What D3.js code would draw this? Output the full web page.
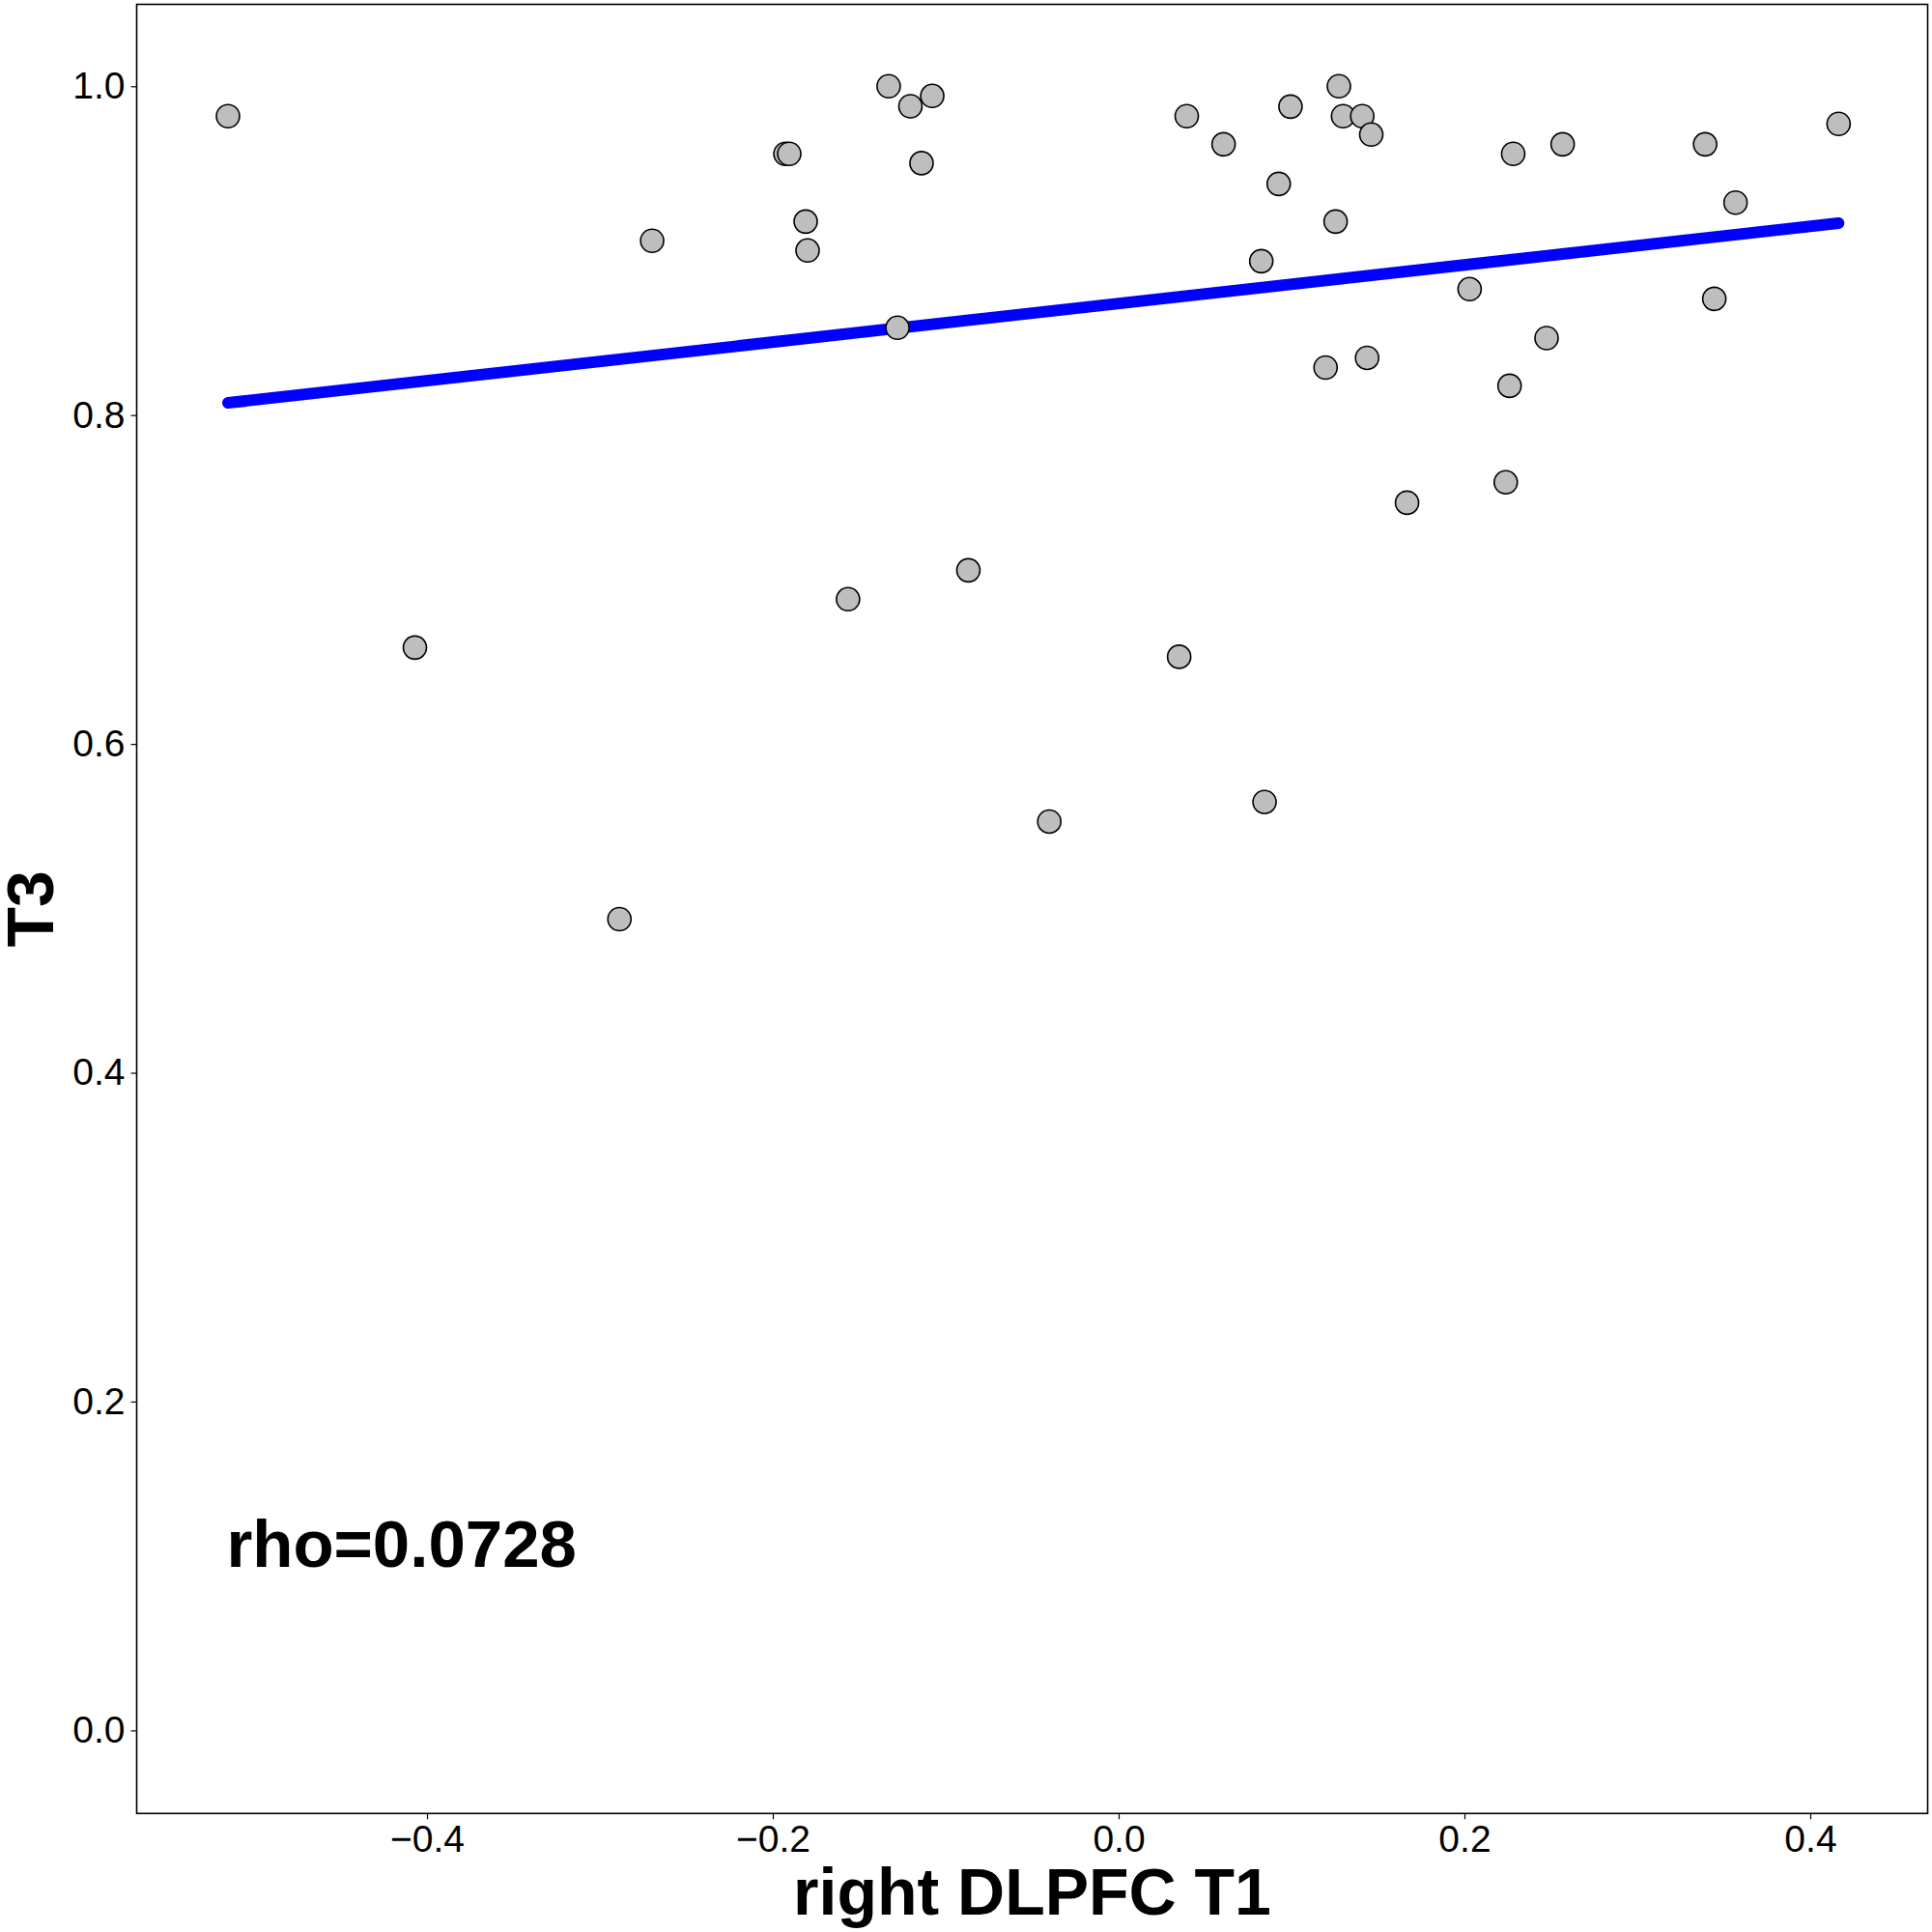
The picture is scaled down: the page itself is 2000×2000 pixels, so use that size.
<!DOCTYPE html>
<html>
<head>
<meta charset="utf-8">
<script src="https://cdn.jsdelivr.net/npm/d3@7"></script>
<style>
  body { margin: 0; background: #fff; }
  text { font-family: "Liberation Sans", Helvetica, Arial, sans-serif; }
</style>
</head>
<body>
<div id="chart"></div>
<script>
// right DLPFC T1 against T3, one dot per subject.
var dlpfcT1 = [-0.5151, -0.4070, -0.2698, -0.2887, -0.1927, -0.1905, -0.1810, -0.1799,
  -0.1565, -0.1330, -0.1204, -0.1078, -0.1140, -0.1279, -0.0869, -0.0401, 0.0350,
  0.0394, 0.0607, 0.0825, 0.0844, 0.0926, 0.0994, 0.1197, 0.1255, 0.1274, 0.1298,
  0.1409, 0.1461, 0.1437, 0.1668, 0.2030, 0.2239, 0.2261, 0.2282, 0.2475, 0.2568,
  0.3392, 0.3445, 0.3568, 0.4164];

var t3 = [0.9818, 0.6586, 0.9060, 0.4934, 0.9589, 0.9589, 0.9177, 0.9001,
  0.6880, 1.0000, 0.9878, 0.9941, 0.9532, 0.8531, 0.7056, 0.5528, 0.6530,
  0.9818, 0.9647, 0.8936, 0.5647, 0.9406, 0.9876, 0.8289, 0.9177, 1.0000, 0.9818,
  0.9818, 0.9706, 0.8348, 0.7467, 0.8766, 0.7591, 0.8178, 0.9589, 0.8468, 0.9647,
  0.9647, 0.8707, 0.9292, 0.9771];

// Fitted line, read at both ends of the data range.
var fitX = [-0.5151, 0.4164];
var fitY = [0.8074, 0.9167];

var xTicks = [-0.4, -0.2, 0.0, 0.2, 0.4];
var yTicks = [0.0, 0.2, 0.4, 0.6, 0.8, 1.0];

var rhoLabel = 'rho=0.0728';

var width = 2000, height = 2000,
    margin = { top: 4.5, right: 4.5, bottom: 122.7, left: 141.5 };

var svg = d3.select('#chart').append('svg')
    .attr('width', width)
    .attr('height', height);

var x = d3.scaleLinear()
    .domain([-0.5679, 0.4679])
    .range([margin.left, width - margin.right]);

var y = d3.scaleLinear()
    .domain([-0.0505, 1.0498])
    .range([height - margin.bottom, margin.top]);

var fmt = d3.format('.1f');

// Fit line goes under the dots.
var line = d3.line()
    .x(function (d) { return x(d[0]); })
    .y(function (d) { return y(d[1]); });

svg.append('path')
    .datum(d3.zip(fitX, fitY))
    .attr('d', line)
    .attr('fill', 'none')
    .attr('stroke', '#0000ff')
    .attr('stroke-width', 12)
    .attr('stroke-linecap', 'round');

svg.append('g')
  .selectAll('circle')
  .data(d3.zip(dlpfcT1, t3))
  .enter().append('circle')
    .attr('cx', function (d) { return x(d[0]); })
    .attr('cy', function (d) { return y(d[1]); })
    .attr('r', 12)
    .attr('fill', '#bebebe')
    .attr('stroke', '#000')
    .attr('stroke-width', 1.6);

// Axes
var xAxis = svg.append('g')
    .attr('transform', 'translate(0,' + (height - margin.bottom) + ')')
    .call(d3.axisBottom(x).tickValues(xTicks).tickFormat(fmt)
      .tickSize(6).tickPadding(6));

var yAxis = svg.append('g')
    .attr('transform', 'translate(' + margin.left + ',0)')
    .call(d3.axisLeft(y).tickValues(yTicks).tickFormat(fmt)
      .tickSize(6).tickPadding(6));

[xAxis, yAxis].forEach(function (g) {
  g.select('.domain').remove();
  g.selectAll('.tick line').attr('stroke', '#000').attr('stroke-width', 1.2);
  g.selectAll('.tick text')
    .attr('fill', '#000')
    .style('font-size', '39px');
});

// Panel border
svg.append('rect')
    .attr('x', x.range()[0])
    .attr('y', y.range()[1])
    .attr('width', x.range()[1] - x.range()[0])
    .attr('height', y.range()[0] - y.range()[1])
    .attr('fill', 'none')
    .attr('stroke', '#000')
    .attr('stroke-width', 1.6);

// Titles
svg.append('text')
    .attr('x', (x.range()[0] + x.range()[1]) / 2)
    .attr('y', 1982)
    .attr('text-anchor', 'middle')
    .style('font-size', '68px')
    .style('font-weight', 'bold')
    .text('right DLPFC T1');

svg.append('text')
    .attr('transform', 'translate(55,' + ((y.range()[0] + y.range()[1]) / 2) + ') rotate(-90)')
    .attr('text-anchor', 'middle')
    .style('font-size', '68px')
    .style('font-weight', 'bold')
    .text('T3');

svg.append('text')
    .attr('x', x(-0.516))
    .attr('y', y(0.0995))
    .style('font-size', '69px')
    .style('font-weight', 'bold')
    .text(rhoLabel);
</script>
</body>
</html>
